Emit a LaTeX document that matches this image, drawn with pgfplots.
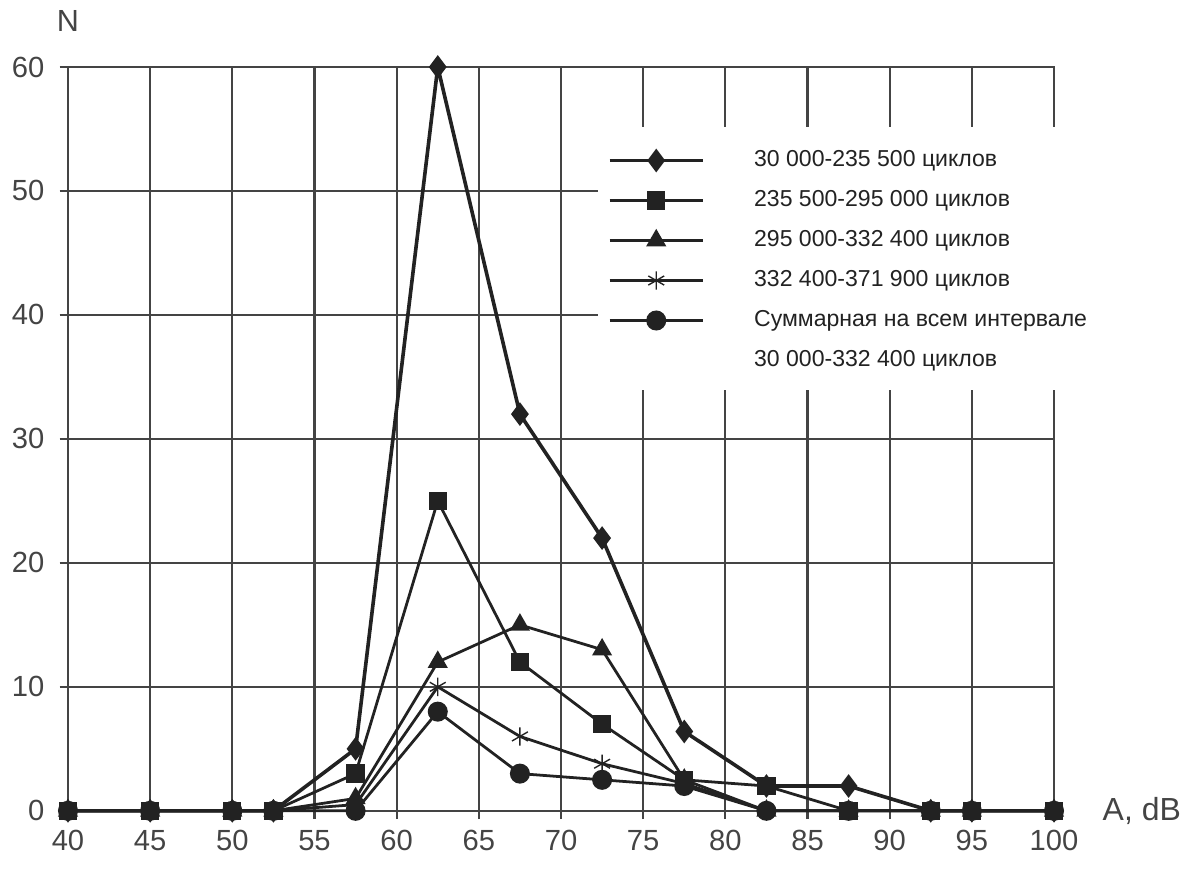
\documentclass[border=0pt]{standalone}
\usepackage{fontspec}
\setmainfont{Liberation Sans}
\usepackage{pgfplots}
\pgfplotsset{compat=1.18}
\definecolor{ink}{HTML}{222222}
\definecolor{gridc}{HTML}{444444}
\begin{document}
\begin{tikzpicture}
\begin{axis}[
name=ax,
scale only axis,
width=355pt, height=267.8pt,
xmin=40, xmax=100, ymin=0, ymax=60,
xtick={40,45,...,100}, ytick={0,10,...,60},
xtick pos=bottom, ytick pos=left,
grid=major,
grid style={draw=gridc, line width=0.8pt},
axis line style={draw=gridc, line width=0.8pt},
tick style={draw=gridc, line width=0.8pt},
tick align=outside, major tick length=3pt,
ticklabel style={font=\fontsize{10.5}{12}\selectfont, text=gridc},
/pgf/number format/assume math mode=true,
xticklabel style={yshift=-0.5pt},
yticklabel style={xshift=-2pt},
clip=false,
legend style={at={(0.547,0.889)}, anchor=north west, draw=none, fill=none,
  inner sep=0pt, row sep=6.9pt, column sep=0pt,
  nodes={font=\fontsize{8.3}{9}\selectfont, text=ink, text height=6pt, text depth=1.5pt, inner sep=0pt, anchor=west}},
legend cell align=left,
legend image code/.code={\draw[mark repeat=2,mark phase=2,#1] plot coordinates {(0pt,0pt) (16.75pt,0pt) (33.5pt,0pt)}; \path[draw=none,fill=none] (0pt,0pt) -- (52pt,0pt);},
every axis plot/.append style={line width=1pt, draw=ink, mark options={solid, fill=ink, draw=ink}},
]
% white box behind the legend hides the grid there
\fill[white] (rel axis cs:0.5375,0.566) rectangle (rel axis cs:1.0517,0.919);
\addplot[line width=1.3pt, mark=diamond*, mark size=3.2pt] coordinates {
(40,0) (45,0) (50,0) (52.5,0) (57.5,5) (62.5,60) (67.5,32) (72.5,22) (77.5,6.4) (82.5,2) (87.5,2) (92.5,0) (95,0) (100,0)};
\addplot[mark=square*, mark size=2.8pt] coordinates {
(40,0) (45,0) (50,0) (52.5,0) (57.5,3) (62.5,25) (67.5,12) (72.5,7) (77.5,2.5) (82.5,2) (87.5,0) (92.5,0) (95,0) (100,0)};
\addplot[mark=triangle*, mark size=3.2pt] coordinates {
(40,0) (45,0) (50,0) (52.5,0) (57.5,1) (62.5,12) (67.5,15) (72.5,13) (77.5,2.5) (82.5,0) (87.5,0) (92.5,0) (95,0) (100,0)};
\addplot[mark=asterisk, mark size=3.3pt, mark options={line width=0.5pt}] coordinates {
(40,0) (45,0) (50,0) (52.5,0) (57.5,0.5) (62.5,10) (67.5,6) (72.5,3.8) (77.5,2.2) (82.5,0) (87.5,0) (92.5,0) (95,0) (100,0)};
\addplot[mark=*, mark size=3.1pt] coordinates {
(40,0) (45,0) (50,0) (52.5,0) (57.5,0) (62.5,8) (67.5,3) (72.5,2.5) (77.5,2) (82.5,0) (87.5,0) (92.5,0) (95,0) (100,0)};
\addlegendentry{30 000-235 500 циклов}
\addlegendentry{235 500-295 000 циклов}
\addlegendentry{295 000-332 400 циклов}
\addlegendentry{332 400-371 900 циклов}
\addlegendentry{Суммарная на всем интервале}
\addlegendimage{empty legend}
\addlegendentry{30 000-332 400 циклов}
\node[anchor=west, font=\fontsize{11.5}{12}\selectfont, text=gridc, xshift=14pt] at (rel axis cs:1,0) {A, dB};
\node[font=\fontsize{11}{12}\selectfont, text=gridc, yshift=16.5pt] at (rel axis cs:0,1) {N};
\end{axis}
\pgfresetboundingbox
\path[use as bounding box] ([xshift=-24.48pt,yshift=-21.96pt]ax.south west) rectangle ([xshift=49.32pt,yshift=24.12pt]ax.north east);
\end{tikzpicture}
\end{document}
